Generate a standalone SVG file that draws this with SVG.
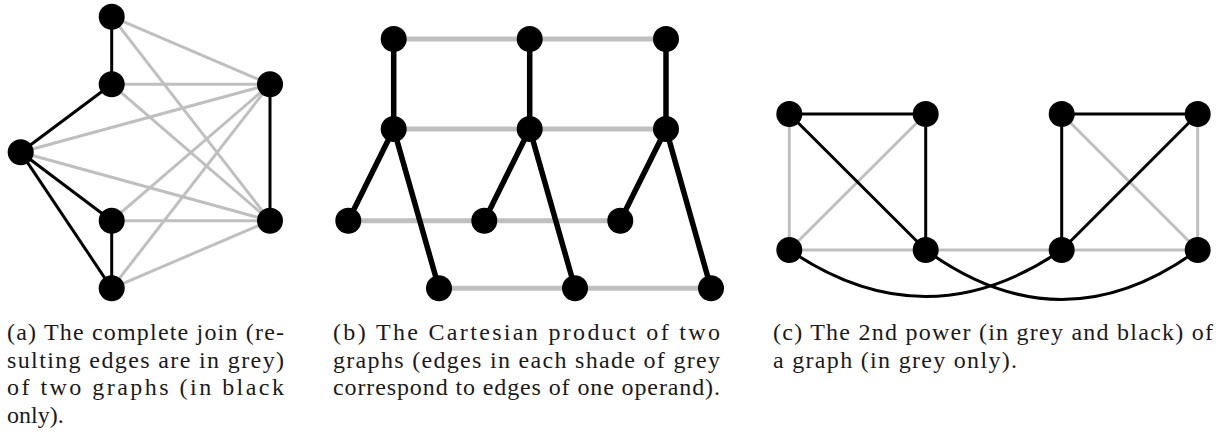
<svg xmlns="http://www.w3.org/2000/svg" width="1225" height="436" viewBox="0 0 1225 436">
<style>
.bk{stroke:#000;fill:none;stroke-width:3}
.gr{stroke:#bfbfbf;fill:none;stroke-width:3}
.bkb{stroke:#000;fill:none;stroke-width:5.5}
.grb{stroke:#bfbfbf;fill:none;stroke-width:5}
.nd{fill:#000}
.cap{font-family:"Liberation Serif","DejaVu Serif",serif;font-size:24px;fill:#1a1a1a}
</style>
<rect width="1225" height="436" fill="#fff"/>
<g id="connectors">
<g class="gr">
<line x1="111.7" y1="16.7" x2="270" y2="84.3"/>
<line x1="111.7" y1="16.7" x2="270" y2="220.7"/>
<line x1="111.7" y1="84.3" x2="270" y2="84.3"/>
<line x1="111.7" y1="84.3" x2="270" y2="220.7"/>
<line x1="20.7" y1="152.3" x2="270" y2="84.3"/>
<line x1="20.7" y1="152.3" x2="270" y2="220.7"/>
<line x1="111.7" y1="220.7" x2="270" y2="84.3"/>
<line x1="111.7" y1="220.7" x2="270" y2="220.7"/>
<line x1="111.7" y1="288.3" x2="270" y2="84.3"/>
<line x1="111.7" y1="288.3" x2="270" y2="220.7"/>
</g>
<g class="bk">
<line x1="111.7" y1="16.7" x2="111.7" y2="84.3"/>
<line x1="111.7" y1="84.3" x2="20.7" y2="152.3"/>
<line x1="20.7" y1="152.3" x2="111.7" y2="220.7"/>
<line x1="20.7" y1="152.3" x2="111.7" y2="288.3"/>
<line x1="111.7" y1="220.7" x2="111.7" y2="288.3"/>
<line x1="270" y1="84.3" x2="270" y2="220.7"/>
</g>
<g class="grb">
<line x1="393.7" y1="39" x2="666" y2="39"/>
<line x1="393.7" y1="129" x2="666" y2="129"/>
<line x1="348.3" y1="220.7" x2="620.3" y2="220.7"/>
<line x1="439" y1="288.3" x2="711" y2="288.3"/>
</g>
<g class="bkb">
<line x1="393.7" y1="39" x2="393.7" y2="129"/>
<line x1="393.7" y1="129" x2="348.3" y2="220.7"/>
<line x1="393.7" y1="129" x2="439" y2="288.3"/>
<line x1="529.7" y1="39" x2="529.7" y2="129"/>
<line x1="529.7" y1="129" x2="484.3" y2="220.7"/>
<line x1="529.7" y1="129" x2="575" y2="288.3"/>
<line x1="666" y1="39" x2="666" y2="129"/>
<line x1="666" y1="129" x2="620.3" y2="220.7"/>
<line x1="666" y1="129" x2="711" y2="288.3"/>
</g>
<g class="gr">
<line x1="789.3" y1="114" x2="789.3" y2="250"/>
<line x1="925.7" y1="114" x2="789.3" y2="250"/>
<line x1="789.3" y1="250" x2="1197.7" y2="250"/>
<line x1="1061.7" y1="114" x2="1197.7" y2="250"/>
<line x1="1197.7" y1="114" x2="1197.7" y2="250"/>
</g>
<g class="bk">
<line x1="789.3" y1="114" x2="925.7" y2="114"/>
<line x1="789.3" y1="114" x2="925.7" y2="250"/>
<line x1="925.7" y1="114" x2="925.7" y2="250"/>
<line x1="1061.7" y1="114" x2="1197.7" y2="114"/>
<line x1="1061.7" y1="114" x2="1061.7" y2="250"/>
<line x1="1197.7" y1="114" x2="1061.7" y2="250"/>
<path d="M789.3,250 Q925.5,343 1061.7,250"/>
<path d="M925.7,250 Q1061.7,349 1197.7,250"/>
</g>
</g>
<g id="panel-a-nodes" class="nd">
<circle id="a1" cx="111.7" cy="16.7" r="13"/>
<circle id="a2" cx="111.7" cy="84.3" r="13"/>
<circle id="a3" cx="20.7" cy="152.3" r="13"/>
<circle id="a4" cx="111.7" cy="220.7" r="13"/>
<circle id="a5" cx="111.7" cy="288.3" r="13"/>
<circle id="a6" cx="270" cy="84.3" r="13"/>
<circle id="a7" cx="270" cy="220.7" r="13"/>
</g>
<g id="panel-b-nodes" class="nd">
<circle id="b1" cx="393.7" cy="39" r="13"/>
<circle id="b2" cx="529.7" cy="39" r="13"/>
<circle id="b3" cx="666" cy="39" r="13"/>
<circle id="b4" cx="393.7" cy="129" r="13"/>
<circle id="b5" cx="529.7" cy="129" r="13"/>
<circle id="b6" cx="666" cy="129" r="13"/>
<circle id="b7" cx="348.3" cy="220.7" r="13"/>
<circle id="b8" cx="484.3" cy="220.7" r="13"/>
<circle id="b9" cx="620.3" cy="220.7" r="13"/>
<circle id="b10" cx="439" cy="288.3" r="13"/>
<circle id="b11" cx="575" cy="288.3" r="13"/>
<circle id="b12" cx="711" cy="288.3" r="13"/>
</g>
<g id="panel-c-nodes" class="nd">
<circle id="c1" cx="789.3" cy="114" r="13"/>
<circle id="c2" cx="925.7" cy="114" r="13"/>
<circle id="c3" cx="1061.7" cy="114" r="13"/>
<circle id="c4" cx="1197.7" cy="114" r="13"/>
<circle id="c5" cx="789.3" cy="250" r="13"/>
<circle id="c6" cx="925.7" cy="250" r="13"/>
<circle id="c7" cx="1061.7" cy="250" r="13"/>
<circle id="c8" cx="1197.7" cy="250" r="13"/>
</g>
<g id="caption-a" class="cap">
<text x="7" y="340" textLength="277" lengthAdjust="spacing">(a) The complete join (re-</text>
<text x="7" y="367.5" textLength="277" lengthAdjust="spacing">sulting edges are in grey)</text>
<text x="7" y="395" textLength="277" lengthAdjust="spacing">of two graphs (in black</text>
<text x="7" y="422.5">only).</text>
</g>
<g id="caption-b" class="cap">
<text x="333" y="340" textLength="387" lengthAdjust="spacing">(b) The Cartesian product of two</text>
<text x="333" y="367.5" textLength="387" lengthAdjust="spacing">graphs (edges in each shade of grey</text>
<text x="333" y="395" textLength="387" lengthAdjust="spacing">correspond to edges of one operand).</text>
</g>
<g id="caption-c" class="cap">
<text x="773" y="340" textLength="440" lengthAdjust="spacing">(c) The 2nd power (in grey and black) of</text>
<text x="773" y="367.5" textLength="244" lengthAdjust="spacing">a graph (in grey only).</text>
</g>
</svg>
